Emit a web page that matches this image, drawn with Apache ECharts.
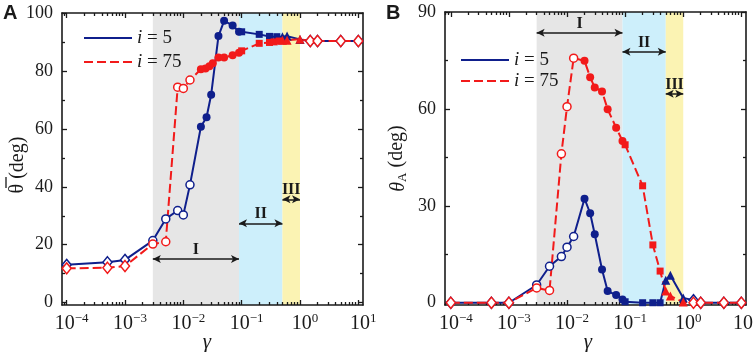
<!DOCTYPE html>
<html><head><meta charset="utf-8">
<script src="https://cdn.jsdelivr.net/npm/echarts@6/dist/echarts.min.js"></script>
<style>html,body{margin:0;padding:0;background:#fff}#c{width:754px;height:352px}</style>
</head><body><div id="c"></div>
<script>
// ---------------- data ----------------
const xTickExponents = [-4, -3, -2, -1, 0, 1];
const yTicksA = [0, 20, 40, 60, 80, 100];
const yTicksB = [0, 30, 60, 90];
const seriesNames = ['i = 5', 'i = 75'];

// Panel A: mean theta (deg) vs gamma
const gammaA5 = [1e-4, 5e-4, 1e-3, 0.003, 0.005, 0.008, 0.01, 0.013, 0.02, 0.025, 0.03, 0.04, 0.05, 0.07, 0.09, 0.1, 0.2, 0.3, 0.4, 0.5, 0.6, 1, 1.5, 2, 5, 10];
const thetaA5 = [13.0, 13.9, 14.7, 21.4, 28.9, 31.8, 30.3, 40.7, 60.8, 64.1, 71.9, 92.2, 97.5, 95.9, 93.7, 93.7, 92.8, 92.1, 92.0, 92.0, 92.2, 91.0, 90.5, 90.5, 90.5, 90.5];
const gammaA75 = [1e-4, 5e-4, 1e-3, 0.003, 0.005, 0.008, 0.01, 0.013, 0.02, 0.024, 0.028, 0.032, 0.04, 0.05, 0.07, 0.09, 0.1, 0.2, 0.3, 0.36, 0.44, 0.5, 0.6, 1, 1.5, 2, 5, 10];
const thetaA75 = [11.8, 12.0, 12.6, 20.2, 21.0, 74.5, 74.1, 77.0, 80.7, 81.0, 81.8, 82.8, 84.8, 84.8, 85.6, 86.4, 87.1, 89.7, 90.0, 90.2, 90.5, 90.8, 90.8, 91.1, 90.5, 90.5, 90.5, 90.5];

// Panel B: theta_A (deg) vs gamma
const gammaB5 = [1e-4, 5e-4, 1e-3, 0.003, 0.005, 0.008, 0.01, 0.013, 0.02, 0.025, 0.03, 0.04, 0.05, 0.07, 0.09, 0.1, 0.2, 0.3, 0.4, 0.5, 0.6, 1, 1.5, 2, 5, 10];
const thetaB5 = [0, 0, 0, 5.5, 11.3, 14.3, 17.2, 20.5, 32.2, 27.7, 21.2, 10.3, 3.6, 2.4, 1.0, 0.3, 0, 0, 0, 7.0, 8.5, 1.5, 0.8, 0, 0, 0];
const gammaB75 = [1e-4, 5e-4, 1e-3, 0.003, 0.005, 0.008, 0.01, 0.013, 0.02, 0.025, 0.03, 0.04, 0.05, 0.07, 0.09, 0.1, 0.2, 0.3, 0.4, 0.5, 0.6, 1, 1.5, 2, 5, 10];
const thetaB75 = [0, 0, 0, 4.6, 3.8, 46.1, 60.7, 75.7, 74.9, 69.8, 66.6, 65.4, 59.9, 54.2, 50.1, 48.9, 36.2, 17.9, 9.8, 3.6, 2.1, 0.2, 0, 0, 0, 0];

// regimes
const regionEdges = [0.003, 0.09, 0.5, 1];
const regionNames = ['I', 'II', 'III'];

// ---------------- styling ----------------
const L = Math.log10;
const SERIF = 'Liberation Serif';
const BLUE = '#0f1f8c', RED = '#f21a1a', INK = '#1a1a1a';
const REGION_COLORS = ['#e6e6e6', '#cdeffb', '#fbf3b3'];

function markerStyle(g, color) {
  if (g <= 0.0011 || g > 1.01) return { symbol: 'diamond', symbolSize: [9, 11], itemStyle: { color: '#fff', borderColor: color, borderWidth: 1.5 } };
  if (g < 0.015) return { symbol: 'circle', symbolSize: 8, itemStyle: { color: '#fff', borderColor: color, borderWidth: 1.5 } };
  if (g < 0.095) return { symbol: 'circle', symbolSize: 8, itemStyle: { color: color, borderWidth: 0 } };
  if (g < 0.48) return { symbol: 'rect', symbolSize: 7, itemStyle: { color: color, borderWidth: 0 } };
  return { symbol: 'triangle', symbolSize: 9, itemStyle: { color: color, borderWidth: 0 } };
}
function pts(gs, vs, color) {
  return gs.map((g, i) => Object.assign({ value: [L(g), vs[i]] }, markerStyle(g, color)));
}

function supLabel(v) {
  const e = Math.round(v);
  return '{b|10}{s|' + (e < 0 ? '\u2212' + (-e) : e) + '}';
}

function xAxes(grid, min, max, namePadRight) {
  const minor = [];
  for (let e = -5; e <= 1; e++) for (let k = 2; k <= 9; k++) { const v = e + L(k); if (v > min && v < max) minor.push(v); }
  const base = { type: 'value', gridIndex: grid, min, max, splitLine: { show: false }, z: 2 };
  const line = { onZero: false, lineStyle: { color: INK, width: 1.6 } };
  const tickLS = { color: INK, width: 1.3 };
  return [
    Object.assign({}, base, {
      position: 'bottom', axisLine: line,
      axisTick: { inside: true, length: 5, customValues: xTickExponents, lineStyle: tickLS },
      axisLabel: { customValues: xTickExponents, formatter: supLabel, margin: 7, padding: [0, 0, 0, 10],
        rich: { b: { fontFamily: SERIF, fontSize: 20, color: INK, lineHeight: 22, verticalAlign: 'bottom' },
                s: { fontFamily: SERIF, fontSize: 13, color: INK, lineHeight: 14, verticalAlign: 'top' } } },
      name: 'γ', nameLocation: 'middle', nameGap: 27, nameMoveOverlap: false,
      nameTextStyle: { fontFamily: SERIF, fontStyle: 'italic', fontSize: 21, color: INK, padding: [0, namePadRight, 0, 0] }
    }),
    Object.assign({}, base, { position: 'bottom', axisLine: { show: false, onZero: false },
      axisTick: { inside: true, length: 3, customValues: minor, lineStyle: tickLS }, axisLabel: { show: false } }),
    Object.assign({}, base, { position: 'top', axisLine: line,
      axisTick: { inside: true, length: 5, customValues: xTickExponents, lineStyle: tickLS }, axisLabel: { show: false } }),
    Object.assign({}, base, { position: 'top', axisLine: { show: false, onZero: false },
      axisTick: { inside: true, length: 3, customValues: minor, lineStyle: tickLS }, axisLabel: { show: false } })
  ];
}

function yAxes(grid, min, max, major, minor, name, nameRich, nameGap, namePad) {
  const base = { type: 'value', gridIndex: grid, min, max, splitLine: { show: false }, z: 2 };
  const line = { onZero: false, lineStyle: { color: INK, width: 1.6 } };
  const tickLS = { color: INK, width: 1.3 };
  return [
    Object.assign({}, base, {
      position: 'left', axisLine: line,
      axisTick: { inside: true, length: 5, customValues: major, lineStyle: tickLS },
      axisLabel: { customValues: major, margin: 9, fontFamily: SERIF, fontSize: 18, color: INK },
      name: name, nameLocation: 'middle', nameGap: nameGap, nameMoveOverlap: false,
      nameTextStyle: { fontFamily: SERIF, fontSize: 20, color: INK, rich: nameRich, padding: namePad }
    }),
    Object.assign({}, base, { position: 'left', axisLine: { show: false, onZero: false },
      axisTick: { inside: true, length: 3, customValues: minor, lineStyle: tickLS }, axisLabel: { show: false } }),
    Object.assign({}, base, { position: 'right', axisLine: line,
      axisTick: { inside: true, length: 5, customValues: major, lineStyle: tickLS }, axisLabel: { show: false } }),
    Object.assign({}, base, { position: 'right', axisLine: { show: false, onZero: false },
      axisTick: { inside: true, length: 3, customValues: minor, lineStyle: tickLS }, axisLabel: { show: false } })
  ];
}

function regionAreas() {
  return {
    silent: true, z: 1,
    data: regionNames.map((n, i) => [
      { xAxis: L(regionEdges[i]), itemStyle: { color: REGION_COLORS[i], opacity: 1 } },
      { xAxis: L(regionEdges[i + 1]) }
    ])
  };
}
function regionArrows(levels) {
  return {
    silent: true, symbol: ['arrow', 'arrow'], symbolSize: [6, 8], precision: 6,
    lineStyle: { color: INK, width: 1.5, type: 'solid' },
    label: { show: true, position: 'insideMiddleTop', distance: 1, formatter: '{b}',
      fontFamily: SERIF, fontWeight: 'bold', fontSize: 16, color: INK },
    data: regionNames.map((n, i) => [
      { name: n, coord: [L(regionEdges[i]), levels[i]] },
      { coord: [L(regionEdges[i + 1]), levels[i]] }
    ])
  };
}

function lineSeries(name, gs, vs, color, dashed, xi, yi, extra) {
  return Object.assign({
    name, type: 'line', xAxisIndex: xi, yAxisIndex: yi, z: 3,
    data: pts(gs, vs, color),
    lineStyle: { color, width: 2, type: dashed ? [9, 4] : 'solid' },
    itemStyle: { color },
    emphasis: { disabled: true }
  }, extra || {});
}

const legendBase = {
  orient: 'vertical', itemWidth: 48, itemHeight: 14, padding: 0, selectedMode: false,
  data: seriesNames, itemStyle: { opacity: 0 },
  formatter: n => '{i|i} = ' + n.split('= ')[1],
  textStyle: { fontFamily: SERIF, fontSize: 19, color: INK, lineHeight: 20,
    rich: { i: { fontFamily: SERIF, fontSize: 19, fontStyle: 'italic', color: INK, lineHeight: 20 } } }
};

const option = {
  animation: false,
  backgroundColor: '#fff',
  title: [
    { text: 'A', left: 3, top: 3, padding: 0, textStyle: { fontFamily: 'Liberation Sans', fontWeight: 'bold', fontSize: 20, color: INK } },
    { text: 'B', left: 386, top: 3, padding: 0, textStyle: { fontFamily: 'Liberation Sans', fontWeight: 'bold', fontSize: 20, color: INK } }
  ],
  // overbar of the theta in panel A's axis title
  graphic: [
    { type: 'line', shape: { x1: 6, y1: 177, x2: 6, y2: 188 }, style: { stroke: INK, lineWidth: 1.3 } }
  ],
  legend: [
    Object.assign({}, legendBase, { left: 83, top: 28, itemGap: 4 }),
    Object.assign({}, legendBase, { left: 460, top: 50, itemGap: 1 })
  ],
  grid: [
    { left: 62, right: 754 - 363, top: 13, bottom: 352 - 305, containLabel: false, outerBoundsMode: 'none' },
    { left: 445, right: 754 - 746, top: 12, bottom: 352 - 305, containLabel: false, outerBoundsMode: 'none' }
  ],
  xAxis: [].concat(xAxes(0, -4.08, 1.08, 11), xAxes(1, -4.1, 1.08, 15)),
  yAxis: [].concat(
    yAxes(0, -0.9, 100.2, yTicksA, [10, 30, 50, 70, 90], '{t|θ} (deg)', { t: { fontFamily: SERIF, fontSize: 20, color: INK } }, 34, [0, 12, 0, 0]),
    yAxes(1, -0.7, 90, yTicksB, [15, 45, 75], '{t|θ}{s|A} (deg)', {
      t: { fontFamily: SERIF, fontSize: 20, fontStyle: 'italic', color: INK, lineHeight: 24, verticalAlign: 'bottom' },
      s: { fontFamily: SERIF, fontSize: 13, color: INK, lineHeight: 14, verticalAlign: 'bottom' } }, 36, 0)
  ),
  series: [
    lineSeries(seriesNames[0], gammaA5, thetaA5, BLUE, false, 0, 0, { markArea: regionAreas(), markLine: regionArrows([15.0, 27.4, 35.7]) }),
    lineSeries(seriesNames[1], gammaA75, thetaA75, RED, true, 0, 0),
    lineSeries(seriesNames[0], gammaB5, thetaB5, BLUE, false, 4, 4, { markArea: regionAreas(), markLine: regionArrows([83.6, 77.7, 64.7]) }),
    lineSeries(seriesNames[1], gammaB75, thetaB75, RED, true, 4, 4)
  ]
};

const chart = echarts.init(document.getElementById('c'), null, { renderer: 'canvas' });
chart.setOption(option);
</script>
</body></html>
